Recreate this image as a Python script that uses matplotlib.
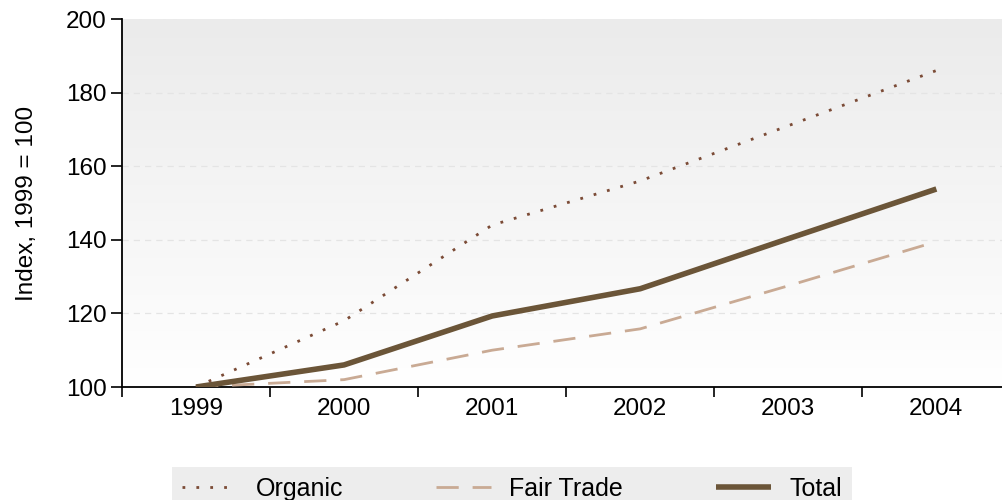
import matplotlib
matplotlib.use('Agg')
from matplotlib import pyplot as plt
from matplotlib.colors import LinearSegmentedColormap
import numpy as np

plt.rcParams['font.family'] = ['Liberation Sans', 'DejaVu Sans']

years = ['1999', '2000', '2001', '2002', '2003', '2004']
organic = [100, 118, 144, 156, 171, 186]
fair_trade = [100, 102, 110, 115.8, 127.5, 139.5]
total = [100, 106, 119.3, 126.7, 140.3, 153.8]

fig = plt.figure(figsize=(10.03, 5.0), dpi=100)
ax = fig.add_axes([0.1216, 0.226, 0.8784, 0.736])

x = np.arange(len(years))
xmin, xmax = -0.5, 5.45
ymin, ymax = 100, 200

# background gradient, light grey on top to white at the bottom
cmap = LinearSegmentedColormap.from_list('bg', ['#ffffff', '#ebebeb'])
grad = np.linspace(0, 1, 256).reshape(-1, 1)
ax.imshow(grad, extent=[xmin, xmax, ymin, ymax], origin='lower',
          aspect='auto', cmap=cmap, zorder=0)

for yv in [120, 140, 160, 180]:
    ax.axhline(yv, color='#e4e4e4', lw=0.9, ls=(0, (5, 4)), zorder=1)

ax.plot(x, organic, color='#7b4b36', lw=2.0, ls=(0, (1, 4)), label='Organic', zorder=3)
ax.plot(x, fair_trade, color='#c9aa94', lw=2.0, ls=(0, (8, 5)), label='Fair Trade', zorder=3)
ax.plot(x, total, color='#6b5538', lw=4.0, label='Total', zorder=4,
        solid_capstyle='butt')

ax.set_xlim(xmin, xmax)
ax.set_ylim(ymin, ymax)
ax.set_yticks([100, 120, 140, 160, 180, 200])
ax.set_xticks(np.arange(-0.5, 5.0, 1.0))
ax.set_xticklabels([])
ax.set_xticks(x, minor=True)
ax.set_xticklabels(years, minor=True)
ax.tick_params(axis='x', which='major', length=7, width=1.2, direction='out')
ax.tick_params(axis='x', which='minor', length=0, pad=8, labelsize=17.5)
ax.tick_params(axis='y', length=8, width=1.2, direction='out', labelsize=17.5, pad=3)

for s in ['top', 'right']:
    ax.spines[s].set_visible(False)
ax.spines['left'].set_linewidth(1.3)
ax.spines['bottom'].set_linewidth(1.3)

ax.set_ylabel('Index, 1999 = 100', fontsize=17.5, labelpad=20)

# legend box sits at the bottom edge of the figure
leg = fig.legend(loc='upper center', bbox_to_anchor=(0.5105, 0.066), ncol=3,
                 fontsize=18, frameon=True, fancybox=False, handlelength=2.2,
                 columnspacing=3.7, handletextpad=0.75, borderpad=0.4,
                 borderaxespad=0)
leg.get_frame().set_facecolor('#e9e9e9')
leg.get_frame().set_edgecolor('none')

plt.savefig('out.png', dpi=100)
